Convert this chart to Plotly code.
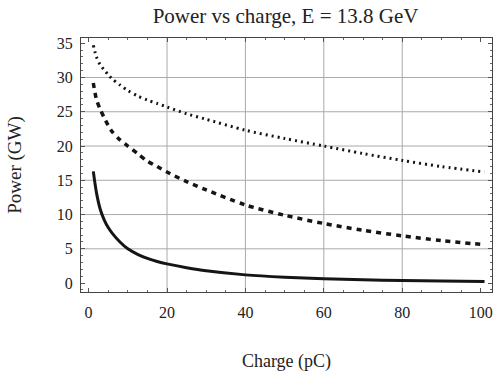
import plotly.graph_objects as go

# Charge (pC)
charge = [1.2, 2, 3, 4, 5, 6, 8, 10, 12.5, 15, 17.5, 20, 25, 30, 40, 50, 60, 70, 80, 90, 101]
# Power (GW) for three cases
power_solid = [16.3, 13.2, 10.7, 9.2, 8.1, 7.3, 6.0, 5.0, 4.2, 3.6, 3.15, 2.8, 2.25, 1.8, 1.2, 0.85, 0.62, 0.48, 0.38, 0.3, 0.22]
power_dashed = [29.2, 26.8, 25.3, 24.1, 23.0, 22.1, 20.9, 20.0, 18.9, 17.8, 17.0, 16.2, 14.8, 13.6, 11.4, 9.9, 8.7, 7.7, 6.9, 6.2, 5.6]
power_dotted = [34.7, 33.0, 31.8, 31.1, 30.4, 29.8, 28.9, 28.1, 27.3, 26.7, 26.2, 25.7, 24.7, 23.9, 22.3, 21.1, 20.0, 18.9, 17.9, 17.0, 16.2]

x_ticks = [0, 20, 40, 60, 80, 100]
y_ticks = [0, 5, 10, 15, 20, 25, 30, 35]
grid_x = [20, 40, 60, 80]
grid_y = [5, 10, 15, 20, 25, 30]

FONT = "Liberation Serif, Times New Roman, serif"
INK = "#151515"
TXT = "#222222"

fig = go.Figure()
fig.add_trace(go.Scatter(x=charge, y=power_dotted, mode="lines", line=dict(color=INK, width=3, dash="2px,4px", shape="spline", smoothing=0.8), showlegend=False))
fig.add_trace(go.Scatter(x=charge, y=power_dashed, mode="lines", line=dict(color=INK, width=3.5, dash="5px,5px", shape="spline", smoothing=0.8), showlegend=False))
fig.add_trace(go.Scatter(x=charge, y=power_solid, mode="lines", line=dict(color=INK, width=3, shape="spline", smoothing=0.8), showlegend=False))

shapes = []
for gx in grid_x:
    shapes.append(dict(type="line", xref="x", yref="paper", x0=gx, x1=gx, y0=0, y1=1, line=dict(color="#aaaaaa", width=1), layer="below"))
for gy in grid_y:
    shapes.append(dict(type="line", xref="paper", yref="y", x0=0, x1=1, y0=gy, y1=gy, line=dict(color="#aaaaaa", width=1), layer="below"))

axis_common = dict(
    showline=True, mirror="allticks", linecolor="#444444", linewidth=1,
    ticks="inside", ticklen=4, tickcolor="#555555", tickwidth=1,
    showgrid=False, zeroline=False,
    tickfont=dict(family=FONT, size=16, color=TXT),
)

fig.update_layout(
    width=494, height=372,
    margin=dict(l=81, r=2, t=38, b=80),
    paper_bgcolor="white", plot_bgcolor="white",
    font=dict(family=FONT, color=TXT),
    title=dict(text="Power vs charge, E = 13.8 GeV", font=dict(family=FONT, size=21, color=TXT),
               x=0.578, xref="container", xanchor="center", y=1 - 16 / 372, yref="container", yanchor="middle"),
    shapes=shapes,
    xaxis=dict(range=[-1.94, 102.9], tickvals=x_ticks, ticklabelstandoff=6,
               minor=dict(dtick=5, tick0=0, ticks="inside", ticklen=2, tickcolor="#666666", showgrid=False),
               title=dict(text="Charge (pC)", font=dict(family=FONT, size=18, color=TXT), standoff=36),
               **axis_common),
    yaxis=dict(range=[-1.3, 35.76], tickvals=y_ticks, ticklabelstandoff=4,
               minor=dict(dtick=1, tick0=0, ticks="inside", ticklen=2, tickcolor="#666666", showgrid=False),
               title=dict(text="Power (GW)", font=dict(family=FONT, size=19, color=TXT), standoff=30),
               **axis_common),
)

fig.write_html("out.html")
